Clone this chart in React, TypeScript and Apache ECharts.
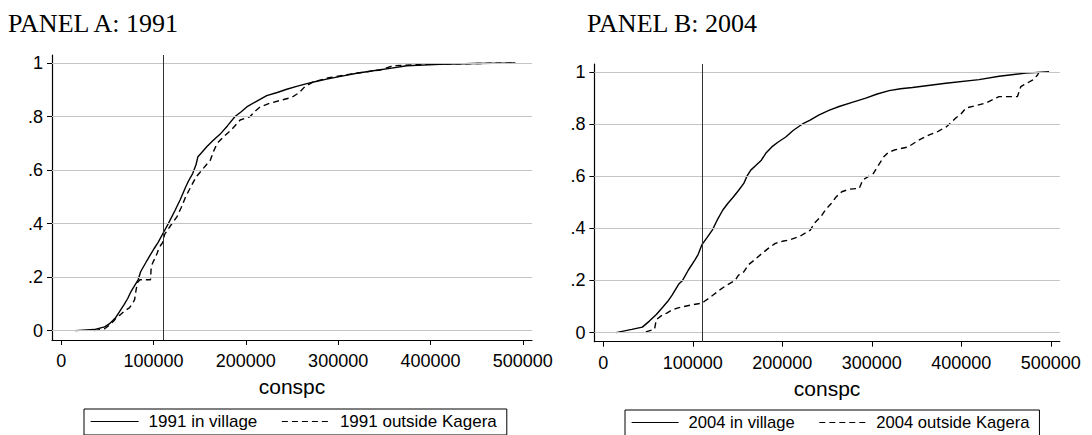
import React, { useEffect, useRef } from "react";
import * as echarts from "echarts";

const xTicks = [0, 100000, 200000, 300000, 400000, 500000];
const yTicks = [0, 0.2, 0.4, 0.6, 0.8, 1];
const referenceLine = 110000;

const titleA = "PANEL A: 1991";
const titleB = "PANEL B: 2004";
const xName = "conspc";

const nameVillageA = "1991 in village";
const nameOutsideA = "1991 outside Kagera";
const nameVillageB = "2004 in village";
const nameOutsideB = "2004 outside Kagera";

const villageA: [number, number][] = [
  [15000, 0], [35700, 0.004], [47000, 0.014], [52000, 0.025], [58600, 0.047], [63000, 0.07],
  [68100, 0.097], [72000, 0.12], [75700, 0.147], [79000, 0.165], [83300, 0.19], [86000, 0.22],
  [92900, 0.262], [96000, 0.28], [100500, 0.306], [105000, 0.33], [110000, 0.362], [116000, 0.4],
  [123400, 0.45], [129000, 0.49], [134800, 0.537], [138000, 0.56], [142400, 0.587], [146000, 0.62],
  [148100, 0.65], [152000, 0.665], [157600, 0.687], [165000, 0.712], [172900, 0.737], [180000, 0.765],
  [188300, 0.8], [195000, 0.818], [201000, 0.836], [212000, 0.858], [222600, 0.878], [234000, 0.89],
  [244300, 0.902], [255000, 0.913], [266000, 0.923], [277000, 0.932], [287600, 0.94], [304000, 0.951],
  [320100, 0.962], [338000, 0.971], [356200, 0.98], [374300, 0.99], [410400, 0.995], [446500, 0.998],
  [492000, 1],
];

const outsideA: [number, number][] = [
  [35700, 0], [47000, 0.007], [52000, 0.02], [56700, 0.035], [60000, 0.05], [64300, 0.06],
  [69000, 0.075], [73800, 0.085], [77000, 0.1], [79500, 0.116], [81000, 0.15], [82600, 0.18],
  [85200, 0.19], [96700, 0.19], [97500, 0.24], [100000, 0.26], [101500, 0.27], [104000, 0.29],
  [106000, 0.31], [108000, 0.32], [110000, 0.33], [112000, 0.36], [118000, 0.39], [125300, 0.425],
  [130000, 0.46], [134800, 0.5], [140000, 0.535], [146200, 0.575], [150000, 0.59], [153800, 0.606],
  [161500, 0.637], [165000, 0.67], [169000, 0.7], [176000, 0.725], [184300, 0.75], [193800, 0.787],
  [204600, 0.8], [210000, 0.82], [215400, 0.836], [226000, 0.85], [237100, 0.86], [250000, 0.872],
  [258000, 0.89], [264000, 0.912], [273200, 0.93], [290000, 0.945], [309300, 0.956], [328000, 0.966],
  [345400, 0.974], [359800, 0.99], [392300, 0.995], [446500, 0.998], [490000, 1],
];

const villageB: [number, number][] = [
  [14200, 0], [31800, 0.0125], [43600, 0.021], [51400, 0.044], [59200, 0.069], [67000, 0.1],
  [72000, 0.12], [76800, 0.144], [84600, 0.1875], [88500, 0.2], [95000, 0.24], [102200, 0.278],
  [106000, 0.3], [110000, 0.336], [116000, 0.365], [121700, 0.393], [127000, 0.43], [133500, 0.47],
  [139000, 0.495], [145200, 0.52], [151000, 0.545], [156900, 0.572], [160500, 0.6], [164700, 0.623],
  [170000, 0.64], [176500, 0.661], [182000, 0.69], [188200, 0.712], [195000, 0.73], [203800, 0.75],
  [212000, 0.775], [222500, 0.8], [231000, 0.815], [241100, 0.835], [252000, 0.852], [263400, 0.867],
  [278000, 0.883], [293200, 0.899], [306000, 0.915], [319300, 0.928], [332000, 0.935], [345400, 0.94],
  [382600, 0.956], [419800, 0.97], [442200, 0.983], [472000, 0.995], [498000, 1],
];

const outsideB: [number, number][] = [
  [47500, 0.0025], [57200, 0.0125], [59200, 0.05], [65000, 0.065], [70900, 0.075], [76000, 0.085],
  [82600, 0.094], [90000, 0.1], [98300, 0.106], [110000, 0.1125], [113000, 0.12], [117800, 0.131],
  [123000, 0.145], [129600, 0.1625], [137400, 0.181], [147100, 0.2], [151000, 0.22], [156900, 0.233],
  [162000, 0.26], [168600, 0.278], [176000, 0.3], [184300, 0.323], [192100, 0.342], [200000, 0.35],
  [207700, 0.355], [220000, 0.37], [231200, 0.393], [236000, 0.42], [242900, 0.444], [248000, 0.47],
  [254600, 0.495], [260000, 0.52], [266400, 0.54], [275000, 0.55], [285900, 0.553], [289800, 0.585],
  [301600, 0.61], [307000, 0.64], [313300, 0.674], [318000, 0.69], [325000, 0.7], [340600, 0.712],
  [352400, 0.738], [364100, 0.758], [374000, 0.772], [383600, 0.79], [393800, 0.823], [400000, 0.84],
  [405000, 0.861], [427300, 0.88], [442200, 0.905], [462700, 0.905], [466400, 0.943], [479400, 0.968],
  [485000, 0.987], [487000, 1],
];

const SANS = "'Liberation Sans', Arial, sans-serif";
const SERIF = "'Liberation Serif', 'Times New Roman', serif";

function yFmt(v: number) {
  if (Math.abs(v) < 1e-9) return "0";
  if (Math.abs(v - 1) < 1e-9) return "1";
  return v.toFixed(1).replace(/^0/, "");
}

function makeXAxis(gridIndex: number) {
  return {
    type: "value",
    gridIndex,
    min: -10000,
    max: 510000,
    name: xName,
    nameLocation: "middle",
    nameGap: 36,
    nameTextStyle: { fontFamily: SANS, fontSize: 21, color: "#000" },
    axisLine: { show: true, onZero: false, lineStyle: { color: "#000", width: 1.2 } },
    axisTick: { show: true, length: 5, customValues: xTicks, lineStyle: { color: "#000", width: 1 } },
    axisLabel: {
      show: true,
      customValues: xTicks,
      margin: 12,
      fontFamily: SANS,
      fontSize: 18,
      color: "#000",
      formatter: (v: number) => String(Math.round(v)),
    },
    splitLine: { show: false },
  };
}

function makeYAxis(gridIndex: number) {
  return {
    type: "value",
    gridIndex,
    min: -0.035,
    max: 1.03,
    axisLine: { show: true, onZero: false, lineStyle: { color: "#000", width: 1.2 } },
    axisTick: { show: true, length: 5, customValues: yTicks, lineStyle: { color: "#000", width: 1 } },
    axisLabel: {
      show: true,
      customValues: yTicks,
      margin: 9,
      fontFamily: SANS,
      fontSize: 18,
      color: "#000",
      formatter: (v: number) => yFmt(v),
    },
    splitLine: { show: false },
  };
}

function gridSeries(idx: number) {
  return {
    type: "line",
    name: "grid" + idx,
    xAxisIndex: idx,
    yAxisIndex: idx,
    data: [],
    z: 1,
    silent: true,
    showSymbol: false,
    markLine: {
      silent: true,
      symbol: ["none", "none"],
      label: { show: false },
      animation: false,
      data: [
        ...yTicks.map((t) => ({ yAxis: t, lineStyle: { color: "#c4c4c4", width: 1, type: "solid" } })),
        { xAxis: referenceLine, lineStyle: { color: "#333", width: 1, type: "solid" } },
      ],
    },
  };
}

function curve(name: string, data: [number, number][], idx: number, dashed: boolean) {
  return {
    type: "line",
    name,
    xAxisIndex: idx,
    yAxisIndex: idx,
    data,
    z: 3,
    symbol: "none",
    showSymbol: false,
    lineStyle: { color: "#000", width: 1.4, type: dashed ? [6, 4] : "solid" },
    itemStyle: { color: "#000" },
  };
}

function makeLegend(names: string[], left: number, top: number, fontSize: number, itemWidth: number) {
  return {
    show: true,
    data: names,
    left,
    top,
    orient: "horizontal",
    itemWidth,
    itemHeight: 12,
    itemGap: 24,
    padding: [4, 10, 5, 6],
    borderColor: "#000",
    borderWidth: 1,
    selectedMode: false,
    itemStyle: { opacity: 0 },
    lineStyle: { width: 1.2 },
    textStyle: { fontFamily: SANS, fontSize, color: "#000", padding: [0, 0, 0, 5] },
  };
}

export default function App() {
  const ref = useRef<HTMLDivElement>(null);
  useEffect(() => {
    if (!ref.current) return;
    const chart = echarts.init(ref.current, undefined, { renderer: "svg" });
    chart.setOption({
      animation: false,
      backgroundColor: "#fff",
      grid: [
        { left: 52, top: 55, width: 480, height: 285, containLabel: false },
        { left: 594.4, top: 64, width: 465.4, height: 277.7, containLabel: false },
      ],
      xAxis: [makeXAxis(0), makeXAxis(1)],
      yAxis: [makeYAxis(0), makeYAxis(1)],
      legend: [
        makeLegend([nameVillageA, nameOutsideA], 84, 409, 17, 48),
        makeLegend([nameVillageB, nameOutsideB], 625, 410, 16.6, 47),
      ],
      graphic: [
        { type: "text", left: 8, top: 10, style: { text: titleA, font: `26px ${SERIF}`, fill: "#000" } },
        { type: "text", left: 587, top: 10, style: { text: titleB, font: `26px ${SERIF}`, fill: "#000" } },
      ],
      series: [
        gridSeries(0),
        gridSeries(1),
        curve(nameVillageA, villageA, 0, false),
        curve(nameOutsideA, outsideA, 0, true),
        curve(nameVillageB, villageB, 1, false),
        curve(nameOutsideB, outsideB, 1, true),
      ],
    });
    return () => chart.dispose();
  }, []);
  return (
    <div
      ref={ref}
      style={{ position: "absolute", left: 0, top: 0, width: 1092, height: 435, background: "#fff" }}
    />
  );
}
